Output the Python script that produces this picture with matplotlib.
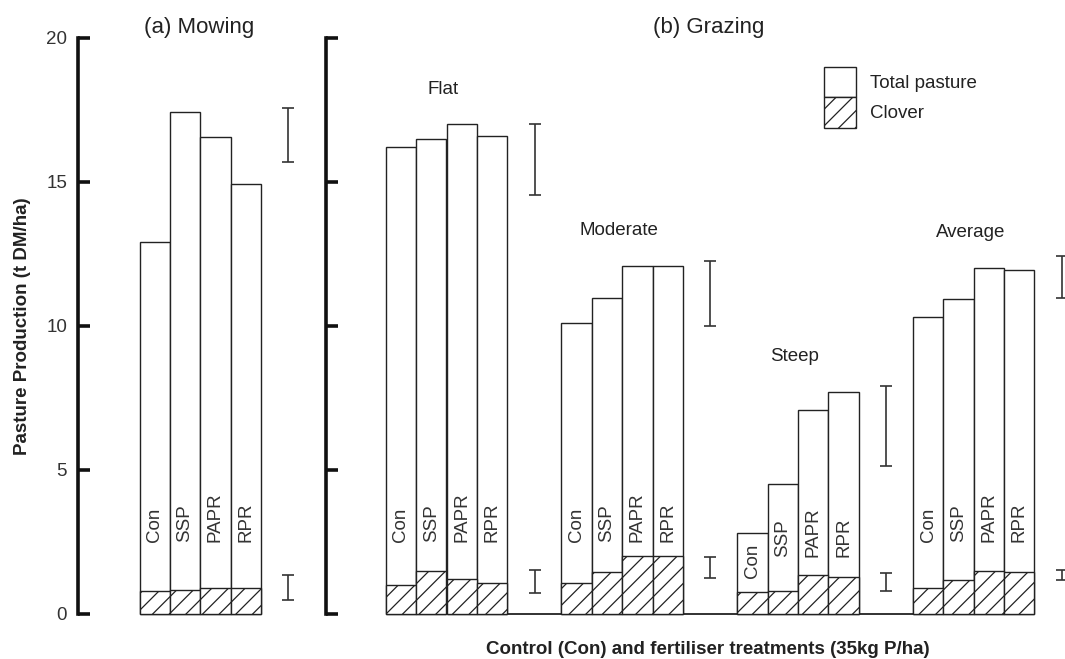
import matplotlib
matplotlib.use("Agg")
import matplotlib.pyplot as plt
from matplotlib.patches import Rectangle

plt.rcParams['font.family'] = ['Liberation Sans', 'DejaVu Sans']
plt.rcParams['hatch.linewidth'] = 0.9

# ---------------- data ----------------
treatments = ['Con', 'SSP', 'PAPR', 'RPR']

mowing_total = [12.9, 17.43, 16.55, 14.93]
mowing_clover = [0.78, 0.84, 0.90, 0.90]
mowing_lsd_total = (15.69, 17.55)
mowing_lsd_clover = (0.49, 1.35)

grazing_groups = ['Flat', 'Moderate', 'Steep', 'Average']
flat_total = [16.22, 16.48, 16.99, 16.60]
flat_clover = [1.01, 1.50, 1.22, 1.07]
moderate_total = [10.08, 10.97, 12.08, 12.08]
moderate_clover = [1.07, 1.44, 2.02, 2.02]
steep_total = [2.80, 4.52, 7.07, 7.70]
steep_clover = [0.74, 0.79, 1.35, 1.29]
average_total = [10.30, 10.92, 12.01, 11.92]
average_clover = [0.90, 1.16, 1.50, 1.44]
grazing_lsd_total = [(14.54, 16.99), (9.98, 12.26), (5.13, 7.92), (10.97, 12.42)]
grazing_lsd_clover = [(0.72, 1.51), (1.24, 1.98), (0.79, 1.42), (1.17, 1.51)]

y_ticks = [0, 5, 10, 15, 20]

# ---------------- style / layout ----------------
EC = '#222222'
TXT = '#222222'
FS = 13.5
W, H = 1065, 659
y0_px, y20_px = 613.7, 37.7
unit = 30.4          # px per bar width
bar_lw = 1.0
group_gap = 5.78
lsd_offset = 4.9

fig = plt.figure(figsize=(W / 100, H / 100), dpi=100)
bottom = (H - y0_px) / H
height = (y0_px - y20_px) / H

axL = fig.add_axes([78.3 / W, bottom, (325 - 78.3) / W, height])
axR = fig.add_axes([325.7 / W, bottom, (W - 325.7) / W, height])

xl0 = -(139.5 - 78.3) / unit
axL.set_xlim(xl0, xl0 + (325 - 78.3) / unit)
xr0 = -(385.7 - 325.7) / unit
axR.set_xlim(xr0, xr0 + (W - 325.7) / unit)

for ax in (axL, axR):
    ax.set_ylim(0, 20)
    ax.patch.set_visible(False)
    for s in ('top', 'right', 'bottom'):
        ax.spines[s].set_visible(False)
    ax.spines['left'].set_linewidth(2.6)
    ax.spines['left'].set_color('#111111')
    ax.set_yticks(y_ticks)
    ax.tick_params(axis='y', direction='in', length=8.5, width=2.6, color='#111111',
                   labelsize=FS, labelcolor='#333333', pad=8)
    ax.set_xticks([])

axR.set_yticklabels([])


def draw_group(ax, start, totals, clovers, lsd_t, lsd_c, label_bases):
    xs = [start + i for i in range(len(totals))]
    ax.bar(xs, totals, width=1, align='edge', facecolor='white', edgecolor=EC,
           linewidth=bar_lw, clip_on=False, zorder=2)
    ax.bar(xs, clovers, width=1, align='edge', facecolor='white', edgecolor=EC,
           linewidth=bar_lw, hatch='//', clip_on=False, zorder=3)
    for x, t, b in zip(xs, treatments, label_bases):
        ax.text(x + 0.5, b, t, rotation=90, ha='center', va='bottom',
                fontsize=FS, color='#333333', zorder=4)
    ex = start + lsd_offset
    for lo, hi in (lsd_t, lsd_c):
        ax.errorbar([ex], [(lo + hi) / 2], yerr=[(hi - lo) / 2], fmt='none',
                    ecolor='#333333', elinewidth=1.2, capsize=4, capthick=1.2,
                    clip_on=False, zorder=4)


# Mowing panel
draw_group(axL, 0, mowing_total, mowing_clover, mowing_lsd_total,
           mowing_lsd_clover, [2.5] * 4)

# Grazing panel
g_totals = [flat_total, moderate_total, steep_total, average_total]
g_clovers = [flat_clover, moderate_clover, steep_clover, average_clover]
label_base = {'Flat': [2.5] * 4, 'Moderate': [2.5] * 4,
              'Steep': [1.24, 1.97, 1.97, 1.97], 'Average': [2.5] * 4}
starts = [k * group_gap for k in range(len(grazing_groups))]
for name, st, tot, clo, lt, lc in zip(grazing_groups, starts, g_totals, g_clovers,
                                      grazing_lsd_total, grazing_lsd_clover):
    draw_group(axR, st, tot, clo, lt, lc, label_base[name])
    axR.text(st + 1.9, max(tot) + 1.22, name, ha='center', va='center',
             fontsize=FS, color=TXT)

axR.hlines(0, starts[0], starts[-1] + len(treatments), color=EC, linewidth=1.3,
           clip_on=False, zorder=1)

# legend (drawn manually as stacked boxes)
lx = 14.42
axR.add_patch(Rectangle((lx, 17.94), 1.05, 1.04, facecolor='white', edgecolor=EC,
                        linewidth=bar_lw, clip_on=False))
axR.add_patch(Rectangle((lx, 16.88), 1.05, 1.06, facecolor='white', edgecolor=EC,
                        linewidth=bar_lw, hatch='//', clip_on=False))
axR.text(15.93, 18.42, 'Total pasture', ha='left', va='center', fontsize=FS, color=TXT)
axR.text(15.93, 17.38, 'Clover', ha='left', va='center', fontsize=FS, color=TXT)

# titles and axis labels
fig.text(199 / W, 1 - 27 / H, '(a) Mowing', ha='center', va='center', fontsize=16, color=TXT)
fig.text(709 / W, 1 - 27 / H, '(b) Grazing', ha='center', va='center', fontsize=16, color=TXT)
fig.text(23 / W, 1 - 326.5 / H, 'Pasture Production (t DM/ha)', rotation=90,
         ha='center', va='center', fontsize=13.5, fontweight='bold', color=TXT)
fig.text(708 / W, 1 - 649 / H, 'Control (Con) and fertiliser treatments (35kg P/ha)',
         ha='center', va='center', fontsize=13.5, fontweight='bold', color=TXT)

fig.savefig('out.png', dpi=100)
